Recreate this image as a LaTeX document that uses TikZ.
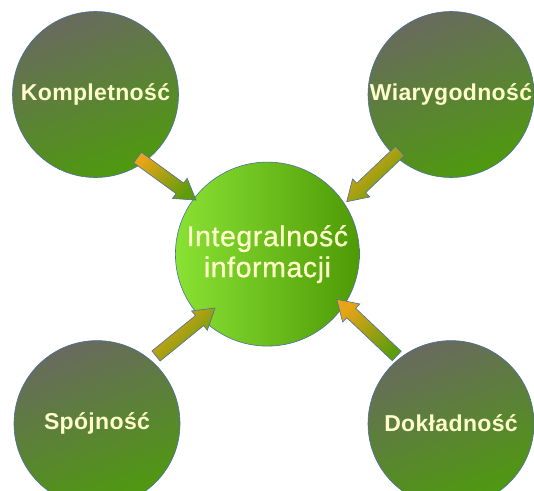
\documentclass[tikz,border=0pt]{standalone}
\usepackage{fontspec}
\setmainfont{Liberation Sans}
\newfontfamily\centerfont{Liberation Sans}[BoldFont=Liberation Sans, BoldFeatures={FakeBold=0.7}, LetterSpace=2]
\newfontfamily\outerfont{Liberation Sans Bold}[LetterSpace=1.5]
\usetikzlibrary{calc}
\definecolor{txtcol}{HTML}{FFFFCC}
\definecolor{edgecol}{HTML}{4A6FA0}
\definecolor{ogray}{HTML}{686A5E}
\definecolor{ogreen}{HTML}{4E9A0E}
\definecolor{clight}{HTML}{8AE234}
\definecolor{cdark}{HTML}{4E9A06}
\definecolor{aorange}{HTML}{E8A418}
\definecolor{aolive}{HTML}{B0A414}
\definecolor{agreen}{HTML}{5E9C0C}
\tikzset{
  outerc/.style={circle, draw=edgecol, line width=0.6pt, minimum size=166pt, inner sep=0pt,
    top color=ogray, bottom color=ogreen, shading angle=20,
    text=txtcol, font=\fontsize{23}{27}\outerfont},
  centerc/.style={circle, draw=edgecol, line width=0.6pt, minimum size=184pt, inner sep=0pt,
    left color=clight, right color=cdark, align=center,
    text=txtcol, font=\fontsize{28.5}{31}\centerfont\bfseries},
  barrow/.style={draw=edgecol, line width=0.6pt, top color=aorange, middle color=aolive,
    bottom color=agreen, shading angle=45}
}
\newcommand\blockarrow[2]{%
  \coordinate (bb) at ($(#2)!20pt!(#1)$);
  \path[barrow] ($(#1)!6.5pt!90:(#2)$) -- ($(bb)!6.5pt!90:(#2)$) -- ($(bb)!12.5pt!90:(#2)$)
    -- (#2) -- ($(bb)!12.5pt!-90:(#2)$) -- ($(bb)!6.5pt!-90:(#2)$) -- ($(#1)!6.5pt!-90:(#2)$) -- cycle;
}
\begin{document}
\begin{tikzpicture}[x=1pt,y=-1pt]
  \useasboundingbox (0,0) rectangle (534,490);
  \clip (0,0) rectangle (534,490);
  \node[outerc] (k) at (95.5,94.5) {Kompletność};
  \node[outerc] (w) at (451,94.5) {Wiarygodność};
  \node[outerc] (s) at (97,423.6) {Spójność};
  \node[outerc] (d) at (451,423.6) {Dokładność};
  \node[centerc] (c) at (267.4,254.1) {Integralność\\informacji};
  \coordinate (t1) at ($(k.center)+(42,63)$);
  \coordinate (h1) at ($(c.center)+(-71.4,-54)$);
  \coordinate (t2) at ($(w.center)+(-51,56.5)$);
  \coordinate (h2) at ($(c.center)+(79.3,-52.4)$);
  \coordinate (t3) at ($(s.center)+(59,-67.6)$);
  \coordinate (h3) at ($(c.center)+(-52.4,53.9)$);
  \coordinate (t4) at ($(d.center)+(-54.3,-67.6)$);
  \coordinate (h4) at ($(c.center)+(69.3,45.2)$);
  \blockarrow{t1}{h1}
  \blockarrow{t2}{h2}
  \blockarrow{t3}{h3}
  \blockarrow{t4}{h4}
\end{tikzpicture}
\end{document}
